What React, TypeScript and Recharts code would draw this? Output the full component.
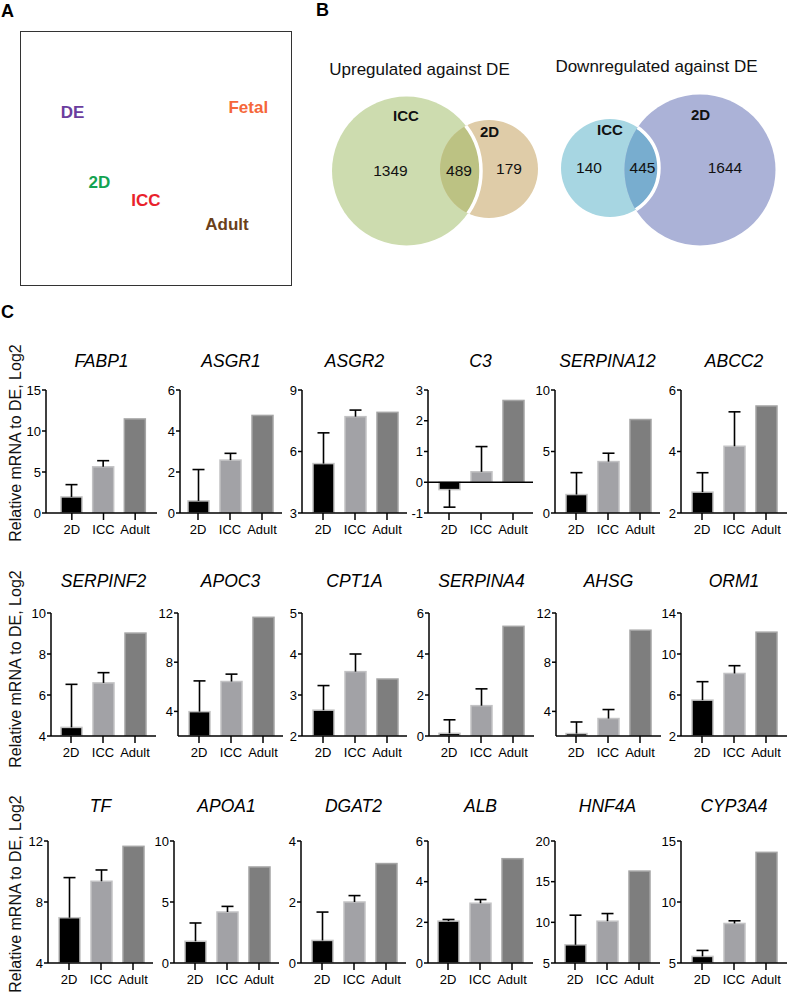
import React from 'react';
import { BarChart, Bar, XAxis, YAxis, ReferenceLine, ScatterChart, Scatter } from 'recharts';

const FONT = '"Liberation Sans", Arial, Helvetica, sans-serif';

// ---------- Panel A (PCA-like map of samples) ----------
const PCA_LABELS = ['DE', 'Fetal', '2D', 'ICC', 'Adult'];
const PCA_X = [19.1, 84.2, 29.0, 46.3, 76.3];
const PCA_Y = [68.2, 70.2, 40.4, 33.3, 23.9];
const PCA_COLORS = ['#6b3d9e', '#f5673a', '#13a351', '#e9212b', '#6b3f19'];

// ---------- Panel B (Venn diagrams) ----------
const VENN_TITLES = ['Upregulated against DE', 'Downregulated against DE'];
const VENN_SETS = ['ICC', '2D'];
const VENN_ONLY_ICC = [1349, 140];
const VENN_BOTH = [489, 445];
const VENN_ONLY_2D = [179, 1644];
// circle geometry in chart units
const VENN_ICC_CX = [406.5, 610];
const VENN_ICC_CY = [171, 168];
const VENN_ICC_R = [74.5, 49];
const VENN_2D_CX = [489, 700];
const VENN_2D_CY = [169, 170];
const VENN_2D_R = [49, 75.5];
// text anchor points in chart units
const VENN_TITLE_X = [419.5, 656.5];
const VENN_TITLE_Y = [69, 66.7];
const VENN_ICC_LABEL_XY = [[406, 115], [610, 129]];
const VENN_2D_LABEL_XY = [[489.5, 131], [700.5, 114]];
const VENN_COUNT_XY = [
  [[390.5, 170], [459, 170], [509, 168]],
  [[589, 167], [642.5, 167], [725, 167]],
];
const VENN_FILL_ICC = ['#cddcaf', '#a7d6e2'];
const VENN_FILL_2D = ['#dfcca8', '#abb2d7'];
const VENN_FILL_BOTH = ['#bcc283', '#78adcf'];

// ---------- Panel C (qPCR bars) ----------
const GROUPS = ['2D', 'ICC', 'Adult'];
const GENES = ['FABP1', 'ASGR1', 'ASGR2', 'C3', 'SERPINA12', 'ABCC2',
  'SERPINF2', 'APOC3', 'CPT1A', 'SERPINA4', 'AHSG', 'ORM1',
  'TF', 'APOA1', 'DGAT2', 'ALB', 'HNF4A', 'CYP3A4'];
const MEAN_2D = [1.96, 0.59, 5.41, -0.24, 1.5, 2.68, 4.42, 3.98, 2.63, 0.13, 2.2, 5.5, 6.97, 1.78, 0.74, 2.06, 7.24, 5.54];
const SD_2D = [1.5, 1.53, 1.5, 0.57, 1.78, 0.63, 2.1, 2.5, 0.6, 0.66, 0.94, 1.8, 2.63, 1.5, 0.93, 0.08, 3.64, 0.49];
const MEAN_ICC = [5.63, 2.58, 7.7, 0.34, 4.18, 4.17, 6.59, 6.43, 3.57, 1.48, 3.42, 8.1, 9.36, 4.18, 2.0, 2.94, 10.14, 8.24];
const SD_ICC = [0.75, 0.33, 0.32, 0.82, 0.68, 1.12, 0.5, 0.6, 0.43, 0.82, 0.73, 0.76, 0.74, 0.46, 0.21, 0.18, 0.94, 0.22];
const MEAN_ADULT = [11.47, 4.76, 7.91, 2.66, 7.6, 5.48, 9.02, 11.65, 3.39, 5.35, 10.6, 12.13, 11.65, 7.87, 3.26, 5.13, 16.3, 14.07];
const Y_MIN = [0, 0, 3, -1, 0, 2, 4, 2, 2, 0, 2, 2, 4, 0, 0, 0, 5, 5];
const Y_MAX = [15, 6, 9, 3, 10, 6, 10, 12, 5, 6, 12, 14, 12, 10, 4, 6, 20, 15];
const Y_TICKS = [
  [0, 5, 10, 15], [0, 2, 4, 6], [3, 6, 9], [-1, 0, 1, 2, 3], [0, 5, 10], [2, 4, 6],
  [4, 6, 8, 10], [4, 8, 12], [2, 3, 4, 5], [0, 2, 4, 6], [4, 8, 12], [2, 6, 10, 14],
  [4, 8, 12], [0, 5, 10], [0, 2, 4], [0, 2, 4, 6], [5, 10, 15, 20], [5, 10, 15],
];
const Y_LABEL = 'Relative mRNA to DE, Log2';

// ---------- layout (pixels) ----------
const AXIS_X = [46, 180, 302, 428, 555, 681, 51, 178, 302, 429, 556, 681, 48, 174, 301, 428, 555, 681];
const AXIS_W = [111, 102, 105, 105, 105, 106, 105, 105, 105, 105, 105, 106, 105, 105, 105, 105, 105, 106];
const PAD_L = [10, 2, 5, 5, 5, 5, 4, 5, 5, 4, 4, 5, 5, 5, 5, 4, 4, 5];
const PAD_R = [6, 4, 4, 4, 4, 5, 5, 4, 4, 5, 5, 5, 4, 4, 4, 5, 5, 5];
const PLOT_TOP = [390, 613, 841];
const PLOT_H = [123, 123, 122];
const TITLE_CY = [362, 582, 807];
const YLABEL_CY = [443, 669, 894];
const BAR_FILL = ['#000000', '#a2a2a6', '#7e7e7e'];
const BAR_STROKE = ['#c4c4c4', '#c2c2c4', '#a4a4a4'];

// text helper: positions by baseline
function Txt({ x, base, size, children, anchor = 'left', bold = false, italic = false, color = '#000', width }: any) {
  const top = base - 0.8465 * size;
  const style: any = {
    position: 'absolute', top, fontSize: size, lineHeight: 1, whiteSpace: 'nowrap',
    fontWeight: bold ? 'bold' : 'normal', fontStyle: italic ? 'italic' : 'normal', color, fontFamily: FONT,
  };
  if (anchor === 'center') {
    style.left = x - (width || 200) / 2;
    style.width = width || 200;
    style.textAlign = 'center';
  } else {
    style.left = x;
  }
  return <div style={style}>{children}</div>;
}

function PanelA() {
  const data = PCA_LABELS.map((label, idx) => ({ label, idx, x: PCA_X[idx], y: PCA_Y[idx] }));
  return (
    <div style={{ position: 'absolute', left: 20, top: 31, width: 272, height: 255, border: '1.3px solid #333', boxSizing: 'border-box' }}>
      <ScatterChart width={270} height={253} margin={{ top: 0, right: 0, bottom: 0, left: 0 }}>
        <XAxis type="number" dataKey="x" domain={[0, 100]} hide />
        <YAxis type="number" dataKey="y" domain={[0, 100]} hide />
        <Scatter
          data={data}
          isAnimationActive={false}
          shape={(p: any) => (
            <text x={p.cx} y={p.cy} textAnchor="middle" dominantBaseline="central"
              fill={PCA_COLORS[p.payload.idx]} fontWeight="bold" fontSize={17} fontFamily={FONT}>
              {p.payload.label}
            </text>
          )}
        />
      </ScatterChart>
    </div>
  );
}

const VENN_LEFT = 300, VENN_TOP = 50, VENN_W = 489, VENN_H = 220;
const VENN_X0 = 300, VENN_X1 = 789, VENN_Y0 = 50, VENN_Y1 = 270;
const VENN_K = VENN_W / (VENN_X1 - VENN_X0);

function VennShape(p: any) {
  const i = p.payload.idx;
  const k = VENN_K;
  const c1 = { x: p.cx, y: p.cy, r: VENN_ICC_R[i] * k };
  const c2 = {
    x: p.cx + (VENN_2D_CX[i] - VENN_ICC_CX[i]) * k,
    y: p.cy + (VENN_2D_CY[i] - VENN_ICC_CY[i]) * k,
    r: VENN_2D_R[i] * k,
  };
  return (
    <g>
      <defs>
        <clipPath id={`venn-icc-${i}`}><circle cx={c1.x} cy={c1.y} r={c1.r} /></clipPath>
        <clipPath id={`venn-2d-${i}`}><circle cx={c2.x} cy={c2.y} r={c2.r} /></clipPath>
      </defs>
      <circle cx={c1.x} cy={c1.y} r={c1.r} fill={VENN_FILL_ICC[i]} />
      <circle cx={c2.x} cy={c2.y} r={c2.r} fill={VENN_FILL_2D[i]} />
      <circle cx={c2.x} cy={c2.y} r={c2.r} fill={VENN_FILL_BOTH[i]} clipPath={`url(#venn-icc-${i})`} />
      <circle cx={c1.x} cy={c1.y} r={c1.r} fill="none" stroke="#ffffff" strokeWidth={3.5} clipPath={`url(#venn-2d-${i})`} />
    </g>
  );
}

function PanelB() {
  const circles = VENN_TITLES.map((t, idx) => ({ idx, x: VENN_ICC_CX[idx], y: VENN_ICC_CY[idx] }));
  const texts: any[] = [];
  VENN_TITLES.forEach((t, d) => {
    texts.push({ x: VENN_TITLE_X[d], y: VENN_TITLE_Y[d], text: t, bold: false, size: 17 });
    texts.push({ x: VENN_ICC_LABEL_XY[d][0], y: VENN_ICC_LABEL_XY[d][1], text: VENN_SETS[0], bold: true, size: 15 });
    texts.push({ x: VENN_2D_LABEL_XY[d][0], y: VENN_2D_LABEL_XY[d][1], text: VENN_SETS[1], bold: true, size: 15 });
    const counts = [VENN_ONLY_ICC[d], VENN_BOTH[d], VENN_ONLY_2D[d]];
    counts.forEach((c, j) => {
      texts.push({ x: VENN_COUNT_XY[d][j][0], y: VENN_COUNT_XY[d][j][1], text: String(c), bold: false, size: 15.5 });
    });
  });
  return (
    <div style={{ position: 'absolute', left: VENN_LEFT, top: VENN_TOP }}>
      <ScatterChart width={VENN_W} height={VENN_H} margin={{ top: 0, right: 0, bottom: 0, left: 0 }}>
        <XAxis type="number" dataKey="x" domain={[VENN_X0, VENN_X1]} hide />
        <YAxis type="number" dataKey="y" domain={[VENN_Y0, VENN_Y1]} reversed hide />
        <Scatter data={circles} isAnimationActive={false} shape={(p: any) => <VennShape {...p} />} />
        <Scatter
          data={texts}
          isAnimationActive={false}
          shape={(p: any) => (
            <text x={p.cx} y={p.cy} textAnchor="middle" dominantBaseline="central"
              fill="#111" fontWeight={p.payload.bold ? 'bold' : 'normal'} fontSize={p.payload.size} fontFamily={FONT}>
              {p.payload.text}
            </text>
          )}
        />
      </ScatterChart>
    </div>
  );
}

function ErrBarShape(props: any) {
  const { x, y, width, height, payload, base } = props;
  const top = Math.min(y, y + height);
  const bottom = Math.max(y, y + height);
  const h = bottom - top;
  const j = payload.idx;
  const d = payload.value - base;
  let err = null;
  if (payload.err > 0 && Math.abs(d) > 1e-9 && h > 0) {
    const ppu = h / Math.abs(d);
    const cx = x + width / 2;
    const y0 = d > 0 ? top : bottom;
    const y1 = d > 0 ? top - payload.err * ppu : bottom + payload.err * ppu;
    err = (
      <g stroke="#000" strokeWidth={1.6}>
        <line x1={cx} y1={y0} x2={cx} y2={y1} />
        <line x1={cx - 6} y1={y1} x2={cx + 6} y2={y1} />
      </g>
    );
  }
  return (
    <g>
      <rect x={x} y={top} width={width} height={h} fill={BAR_FILL[j]} stroke={BAR_STROKE[j]} strokeWidth={1.5} />
      {err}
    </g>
  );
}

const YW = 26, MT = 8, XH = 30;

function GeneChart({ i }: { i: number }) {
  const row = Math.floor(i / 6);
  const means = [MEAN_2D[i], MEAN_ICC[i], MEAN_ADULT[i]];
  const errs = [SD_2D[i], SD_ICC[i], 0];
  const data = GROUPS.map((g, idx) => ({ group: g, idx, value: means[idx], err: errs[idx] }));
  const base = Y_MIN[i] <= 0 && Y_MAX[i] >= 0 ? 0 : Y_MIN[i];
  const w = AXIS_W[i];
  const axisStyle = { stroke: '#000', strokeWidth: 1.5 };
  return (
    <>
      <Txt x={AXIS_X[i] + w / 2} base={TITLE_CY[row] + 0.358 * 17.5} size={17.5} anchor="center" italic width={140}>
        {GENES[i]}
      </Txt>
      <div style={{ position: 'absolute', left: AXIS_X[i] - YW, top: PLOT_TOP[row] - MT }}>
        <BarChart width={YW + w + 3} height={MT + PLOT_H[row] + XH} data={data}
          margin={{ top: MT, right: 3, bottom: 0, left: 0 }}>
          <XAxis dataKey="group" height={XH} interval={0} tickSize={7} tickMargin={5}
            padding={{ left: PAD_L[i], right: PAD_R[i] }}
            axisLine={axisStyle} tickLine={axisStyle}
            tick={{ fill: '#000', fontSize: 13, fontFamily: FONT }} />
          <YAxis type="number" domain={[Y_MIN[i], Y_MAX[i]]} ticks={Y_TICKS[i]} interval={0}
            width={YW} tickSize={4} tickMargin={1} allowDataOverflow
            axisLine={axisStyle} tickLine={axisStyle}
            tick={{ fill: '#000', fontSize: 13, fontFamily: FONT }} />
          {Y_MIN[i] < 0 ? <ReferenceLine y={0} stroke="#000" strokeWidth={1.5} /> : null}
          <Bar dataKey="value" barSize={21} isAnimationActive={false}
            shape={(p: any) => <ErrBarShape {...p} base={base} />} />
        </BarChart>
      </div>
    </>
  );
}

function YLabel({ cy }: { cy: number }) {
  return (
    <div style={{
      position: 'absolute', left: 15.5, top: cy, transform: 'translate(-50%, -50%) rotate(-90deg)',
      fontSize: 16, lineHeight: 1, whiteSpace: 'nowrap', fontFamily: FONT, color: '#111',
    }}>
      {Y_LABEL}
    </div>
  );
}

export default function App() {
  return (
    <div style={{ position: 'absolute', left: 0, top: 0, width: 789, height: 993, background: '#fff', fontFamily: FONT, overflow: 'hidden' }}>
      <Txt x={1} base={17} size={18} bold>A</Txt>
      <Txt x={316} base={16} size={18} bold>B</Txt>
      <Txt x={1} base={318} size={18} bold>C</Txt>
      <PanelA />
      <PanelB />
      {GENES.map((g, i) => <GeneChart key={g} i={i} />)}
      {YLABEL_CY.map((cy, r) => <YLabel key={r} cy={cy} />)}
    </div>
  );
}
